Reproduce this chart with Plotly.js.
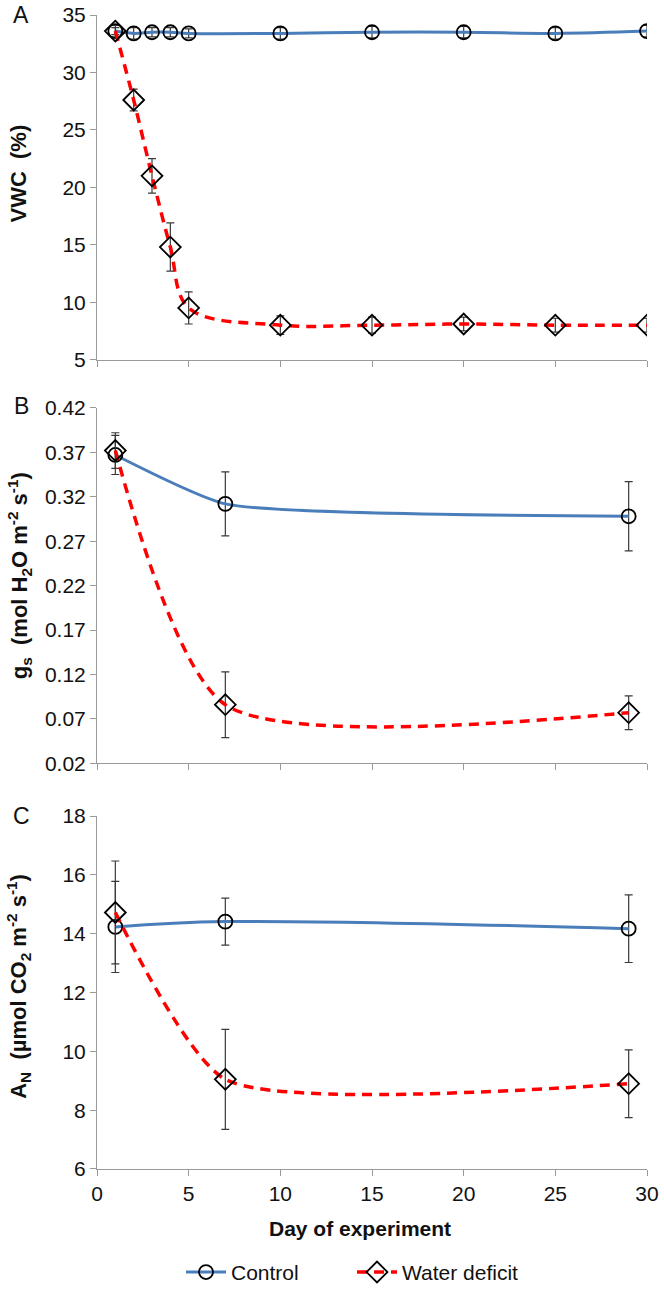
<!DOCTYPE html>
<html>
<head>
<meta charset="utf-8">
<script src="https://cdn.plot.ly/plotly-3.0.1.min.js"></script>
<style>html,body{margin:0;padding:0;background:#fff;}#chart{width:664px;height:1305px;}</style>
</head>
<body>
<div id="chart"></div>
<script>
// ---- Data ----
const daysA = [1, 2, 3, 4, 5, 10, 15, 20, 25, 30];
const vwcControl = [33.6, 33.4, 33.5, 33.5, 33.4, 33.4, 33.5, 33.5, 33.4, 33.6];
const vwcControlErr = [0.5, 0.5, 0.4, 0.4, 0.4, 0.5, 0.5, 0.5, 0.5, 0.5];
const vwcDeficit = [33.6, 27.6, 21.0, 14.8, 9.5, 8.0, 8.0, 8.1, 8.0, 8.0];
const vwcDeficitErr = [0.3, 0.95, 1.5, 2.1, 1.4, 0.8, 0.7, 0.6, 0.6, 0.6];

const daysBC = [1, 7, 29];
const gsControl = [0.367, 0.312, 0.298];
const gsControlErr = [0.022, 0.036, 0.039];
const gsDeficit = [0.372, 0.086, 0.077];
const gsDeficitErr = [0.020, 0.037, 0.019];

const anControl = [14.23, 14.41, 14.17];
const anControlErr = [1.55, 0.80, 1.15];
const anDeficit = [14.72, 9.05, 8.90];
const anDeficitErr = [1.75, 1.70, 1.15];

const seriesNames = ["Control", "Water deficit"];
const xTickVals = [0, 5, 10, 15, 20, 25, 30];
const yTicksA = [5, 10, 15, 20, 25, 30, 35];
const yTicksB = [0.02, 0.07, 0.12, 0.17, 0.22, 0.27, 0.32, 0.37, 0.42];
const yTicksC = [6, 8, 10, 12, 14, 16, 18];

// ---- Layout geometry (pixels) ----
const W = 664, H = 1305;
const mL = 97, mR = 17, mT = 15, mB = 118;
const pw = W - mL - mR, ph = H - mT - mB;
const px2x = p => (p - mL) / pw;
const px2y = p => 1 - (p - mT) / ph;

const FONT = "Liberation Sans, Arial, sans-serif";
const blue = "#4a7ebb", red = "#ff0000";
const axisGray = "#9a9a9a";
const errColor = "#3a3a3a";

function ctrlTrace(x, y, err, xa, ya, show, smooth) {
  return {
    x: x, y: y, xaxis: xa, yaxis: ya, name: seriesNames[0], showlegend: show, legendgroup: "c",
    type: "scatter", mode: "lines+markers",
    line: {color: blue, width: 3, shape: "spline", smoothing: smooth},
    marker: {symbol: "circle-open", size: 14, color: "#000", line: {color: "#000", width: 1.8}},
    error_y: {type: "data", array: err, visible: true, color: errColor, thickness: 1.2, width: 4}
  };
}
function defTrace(x, y, err, xa, ya, show, smooth) {
  return {
    x: x, y: y, xaxis: xa, yaxis: ya, name: seriesNames[1], showlegend: show, legendgroup: "d",
    type: "scatter", mode: "lines+markers",
    line: {color: red, width: 3.5, dash: "10px,7px", shape: "spline", smoothing: smooth},
    marker: {symbol: "diamond-open", size: 16, color: "#000", line: {color: "#000", width: 1.8}},
    error_y: {type: "data", array: err, visible: true, color: errColor, thickness: 1.2, width: 4}
  };
}

const data = [
  ctrlTrace(daysA, vwcControl, vwcControlErr, "x", "y", true, 1),
  defTrace(daysA, vwcDeficit, vwcDeficitErr, "x", "y", true, 1),
  ctrlTrace(daysBC, gsControl, gsControlErr, "x2", "y2", false, 0.5),
  defTrace(daysBC, gsDeficit, gsDeficitErr, "x2", "y2", false, 0.7),
  ctrlTrace(daysBC, anControl, anControlErr, "x3", "y3", false, 1),
  defTrace(daysBC, anDeficit, anDeficitErr, "x3", "y3", false, 0.6)
];

const tickFont = {family: FONT, size: 21, color: "#111"};
function xAxis(anchor, labels) {
  return {
    anchor: anchor, domain: [0, 1], range: [0, 30], tickmode: "array", tickvals: xTickVals,
    showticklabels: labels, ticks: "outside", ticklen: 6, tickcolor: axisGray, tickwidth: 1,
    showline: true, linecolor: axisGray, linewidth: 1, showgrid: false, zeroline: false,
    tickfont: tickFont, fixedrange: true
  };
}
function yAxis(anchor, dom, range, vals, fmt) {
  return {
    anchor: anchor, domain: dom, range: range, tickmode: "array", tickvals: vals,
    tickformat: fmt, ticksuffix: "\u2002", ticks: "outside", ticklen: 6, tickcolor: axisGray, tickwidth: 1,
    showline: true, linecolor: axisGray, linewidth: 1, showgrid: false, zeroline: false,
    tickfont: tickFont, fixedrange: true
  };
}

const domA = [px2y(365), px2y(15)];
const domB = [px2y(775), px2y(414)];
const domC = [px2y(1187), px2y(828.5)];

const annFont = {family: FONT, size: 23, color: "#111"};
const titleFont = {family: FONT, size: 22, color: "#111"};
const annotations = [
  {text: "A", x: px2x(21), y: px2y(15)},
  {text: "B", x: px2x(21), y: px2y(412)},
  {text: "C", x: px2x(21), y: px2y(828)},
].map(a => Object.assign({xref: "paper", yref: "paper", showarrow: false, xanchor: "center", yanchor: "middle", font: annFont}, a));

annotations.push(
  {text: "<b>VWC  (%)</b>", x: px2x(19), y: px2y(176), textangle: -90},
  {text: "<b>g<sub>s</sub>  (mol H<sub>2</sub>O m<sup>-2</sup> s<sup>-1</sup>)</b>", x: px2x(19), y: px2y(585), textangle: -90},
  {text: "<b>A<sub>N</sub>  (µmol CO<sub>2</sub> m<sup>-2</sup> s<sup>-1</sup>)</b>", x: px2x(19), y: px2y(1002), textangle: -90}
);
for (let i = 3; i < annotations.length; i++) {
  Object.assign(annotations[i], {xref: "paper", yref: "paper", showarrow: false, xanchor: "center", yanchor: "middle", font: titleFont});
}
annotations.push({
  text: "<b>Day of experiment</b>", x: px2x(360), y: px2y(1247), xref: "paper", yref: "paper",
  showarrow: false, xanchor: "center", yanchor: "middle", borderpad: 0,
  font: {family: FONT, size: 21, color: "#111"}
});

const layout = {
  width: W, height: H,
  margin: {l: mL, r: mR, t: mT, b: mB, pad: 0},
  paper_bgcolor: "#fff", plot_bgcolor: "#fff",
  font: {family: FONT, color: "#111"},
  xaxis: xAxis("y", false),
  xaxis2: xAxis("y2", false),
  xaxis3: xAxis("y3", true),
  yaxis: yAxis("x", domA, [5, 35], yTicksA, "d"),
  yaxis2: yAxis("x2", domB, [0.02, 0.42], yTicksB, ".2f"),
  yaxis3: yAxis("x3", domC, [6, 18], yTicksC, "d"),
  showlegend: true,
  legend: {
    orientation: "h", x: px2x(352), xanchor: "center", y: px2y(1292), yanchor: "middle",
    font: {family: FONT, size: 21, color: "#111"}, bgcolor: "rgba(0,0,0,0)",
    entrywidth: 116, entrywidthmode: "pixels", itemwidth: 40
  },
  annotations: annotations
};

Plotly.newPlot("chart", data, layout, {staticPlot: true, displayModeBar: false});
</script>
</body>
</html>
